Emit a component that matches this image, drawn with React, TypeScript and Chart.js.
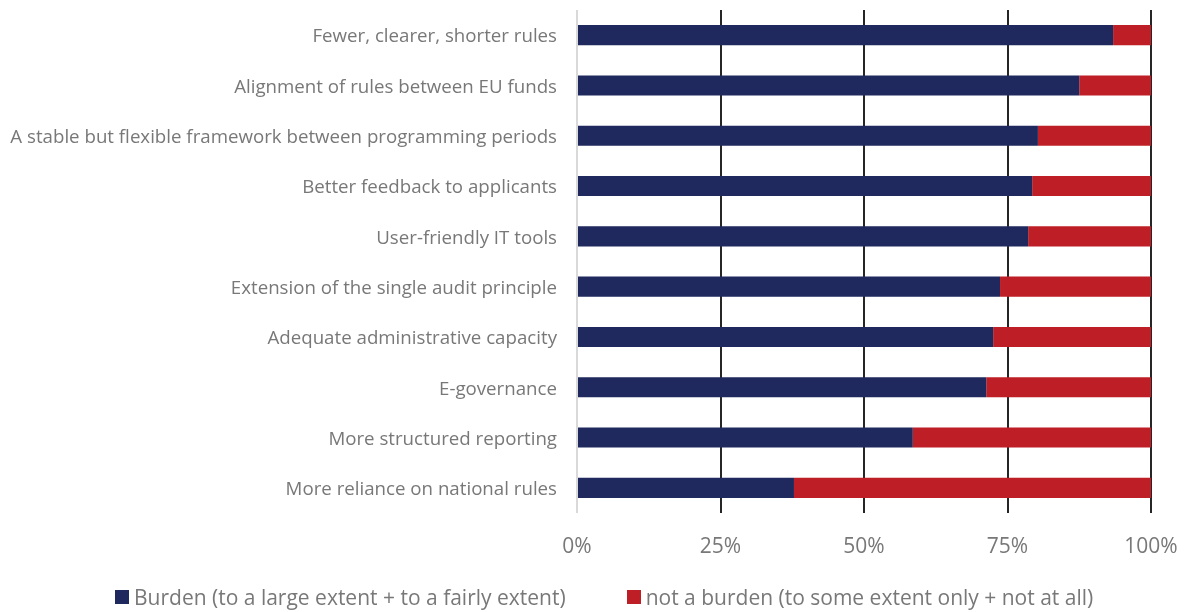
import React, { useEffect, useRef } from "react";
import { Chart, registerables } from "chart.js";

Chart.register(...registerables);

const categories: string[] = [
  "Fewer, clearer, shorter rules",
  "Alignment of rules between EU funds",
  "A stable but flexible framework between programming periods",
  "Better feedback to applicants",
  "User-friendly IT tools",
  "Extension of the single audit principle",
  "Adequate administrative capacity",
  "E-governance",
  "More structured reporting",
  "More reliance on national rules",
];

const burdenValues: number[] = [93.4, 87.5, 80.3, 79.3, 78.6, 73.7, 72.5, 71.3, 58.5, 37.8];
const notBurdenValues: number[] = [6.6, 12.5, 19.7, 20.7, 21.4, 26.3, 27.5, 28.7, 41.5, 62.2];

const seriesLabels: string[] = [
  "Burden (to a large extent + to a fairly extent)",
  "not a burden (to some extent only + not at all)",
];

const xTicks: number[] = [0, 25, 50, 75, 100];

const NAVY = "#1F295E";
const RED = "#BE1F26";
const TEXT = "#787878";
const FONT = "'Open Sans', sans-serif";
const seriesColors: string[] = [NAVY, RED];

export default function App() {
  const canvasRef = useRef<HTMLCanvasElement | null>(null);

  useEffect(() => {
    const canvas = canvasRef.current;
    if (!canvas) return;
    const chart = new Chart(canvas, {
      type: "bar",
      data: {
        labels: categories,
        datasets: [
          {
            label: seriesLabels[0],
            data: burdenValues,
            backgroundColor: seriesColors[0],
            barPercentage: 0.4,
            categoryPercentage: 1,
          },
          {
            label: seriesLabels[1],
            data: notBurdenValues,
            backgroundColor: seriesColors[1],
            barPercentage: 0.4,
            categoryPercentage: 1,
          },
        ],
      },
      options: {
        indexAxis: "y",
        responsive: false,
        animation: false,
        layout: { padding: { top: 10, right: 37, left: 0, bottom: 59 } },
        scales: {
          x: {
            stacked: true,
            min: 0,
            max: 100,
            afterBuildTicks: (scale: any) => {
              scale.ticks = xTicks.map((v) => ({ value: v }));
            },
            afterFit: (scale: any) => {
              scale.height = 40;
              scale.paddingLeft = 0;
              scale.paddingRight = 0;
            },
            ticks: {
              color: TEXT,
              font: { family: FONT, size: 21 },
              padding: 21,
              callback: (v: any) => v + "%",
            },
            grid: {
              drawTicks: false,
              lineWidth: 2,
              color: (ctx: any) => (ctx.tick && ctx.tick.value === 0 ? "#d9d9d9" : "#262626"),
            },
            border: { display: false },
          },
          y: {
            stacked: true,
            afterFit: (scale: any) => {
              scale.width = 577;
              scale.paddingTop = 0;
              scale.paddingBottom = 0;
            },
            ticks: {
              color: TEXT,
              font: { family: FONT, size: 18.7 },
              padding: 20,
              labelOffset: 2,
            },
            grid: { display: false, drawTicks: false },
            border: { display: false },
          },
        },
        plugins: {
          legend: { display: false },
          tooltip: { enabled: false },
        },
      },
    });
    return () => chart.destroy();
  }, []);

  return (
    <div style={{ position: "fixed", left: 0, top: 0, width: 1188, height: 612, background: "#fff" }}>
      <canvas ref={canvasRef} width={1188} height={612} style={{ display: "block" }} />
      <div
        style={{
          position: "absolute",
          left: 115,
          top: 583,
          height: 28,
          display: "flex",
          alignItems: "center",
          gap: 61,
          fontFamily: FONT,
          fontSize: 21,
          color: TEXT,
          whiteSpace: "nowrap",
          lineHeight: "28px",
        }}
      >
        {seriesLabels.map((label, i) => (
          <div key={label} style={{ display: "flex", alignItems: "center", gap: 5 }}>
            <span style={{ display: "inline-block", width: 14, height: 14, background: seriesColors[i] }} />
            <span>{label}</span>
          </div>
        ))}
      </div>
    </div>
  );
}
